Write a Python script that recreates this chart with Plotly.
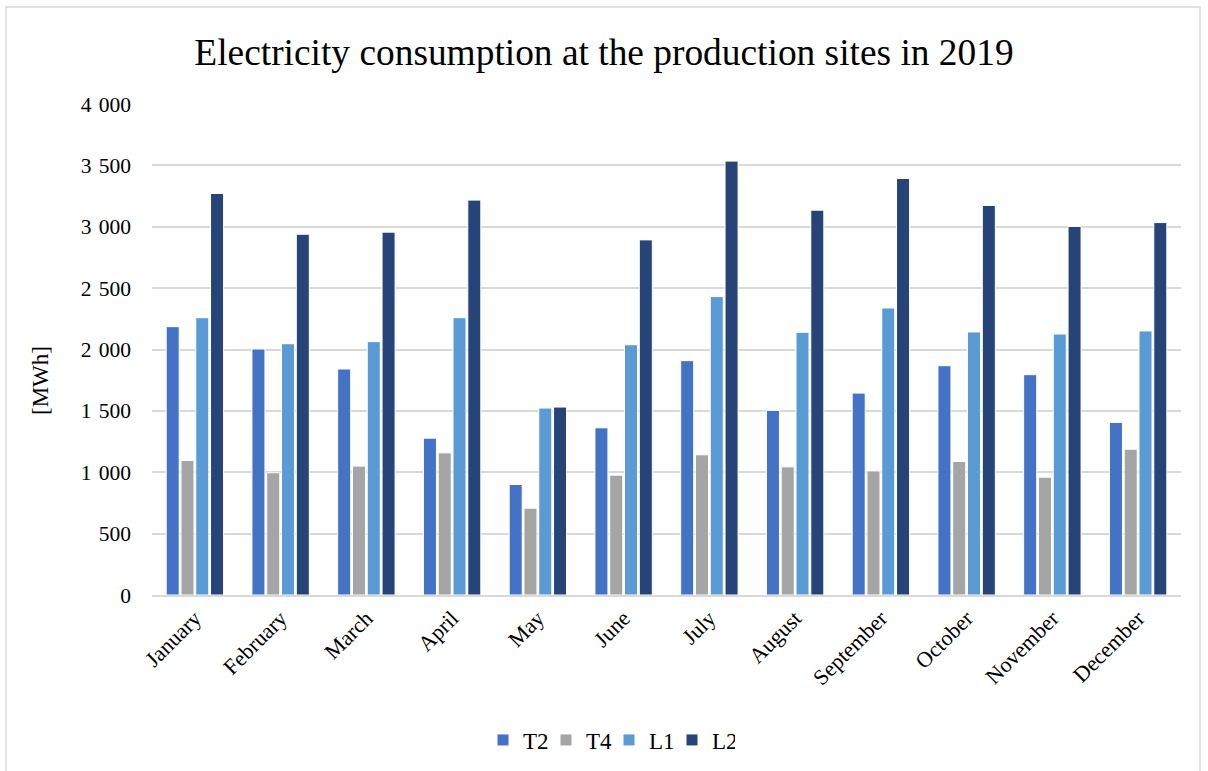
import plotly.graph_objects as go

months = ["January", "February", "March", "April", "May", "June", "July",
          "August", "September", "October", "November", "December"]
t2 = [2186, 2004, 1841, 1278, 900, 1362, 1909, 1504, 1645, 1868, 1795, 1406]
t4 = [1096, 996, 1050, 1158, 707, 976, 1142, 1044, 1011, 1088, 960, 1188]
l1 = [2259, 2047, 2064, 2259, 1523, 2039, 2431, 2140, 2338, 2143, 2126, 2151]
l2 = [3271, 2939, 2956, 3217, 1531, 2893, 3535, 3135, 3393, 3173, 3002, 3034]

series = [("T2", t2, "#4472C4"), ("T4", t4, "#A5A5A5"),
          ("L1", l1, "#5B9BD5"), ("L2", l2, "#264478")]

FONT = "Liberation Serif, Times New Roman, serif"

fig = go.Figure()
for name, vals, col in series:
    fig.add_trace(go.Bar(x=months, y=vals, name=name,
                         marker=dict(color=col, line=dict(color="white", width=1))))

W, H = 1208, 771
L, R, T, B = 152, 27, 104, 176
pw, ph = W - L - R, H - T - B

def px(x):
    return (x - L) / pw

def py(y):
    return (H - B - y) / ph

fig.update_layout(
    width=W, height=H,
    margin=dict(l=L, r=R, t=T, b=B, autoexpand=False),
    paper_bgcolor="white", plot_bgcolor="white",
    font=dict(family=FONT, size=22, color="black"),
    separators=",\u2004",
    barmode="group", bargap=0.31, bargroupgap=0.12,
    title=dict(text="Electricity consumption at the production sites in 2019",
               x=0.5, xref="container", xanchor="center",
               y=1 - 52 / H, yref="container", yanchor="middle",
               font=dict(family=FONT, size=37.4, color="black")),
    legend=dict(orientation="h", x=px(609), xanchor="center",
                y=py(740), yanchor="middle",
                font=dict(family=FONT, size=23, color="black"),
                itemwidth=30, entrywidth=18, traceorder="normal"),
    showlegend=True,
)
fig.update_yaxes(range=[0, 4000], tick0=0, dtick=500, tickformat=",d",
                 showgrid=True, gridcolor="#D9D9D9", gridwidth=1.5,
                 zeroline=False, showline=False, ticks="",
                 ticklabelstandoff=20,
                 tickfont=dict(family=FONT, size=21.5, color="black"))
fig.update_xaxes(showgrid=False, showline=True, linecolor="#D9D9D9", linewidth=1.5,
                 ticks="", tickangle=-45,
                 tickfont=dict(family=FONT, size=22, color="black"))

fig.add_annotation(text="[MWh]", textangle=-90, xref="paper", yref="paper",
                   x=px(40), y=py(381), xanchor="center", yanchor="middle",
                   showarrow=False, font=dict(family=FONT, size=23, color="black"))

fig.add_shape(type="rect", xref="paper", yref="paper",
              x0=px(6), x1=px(1200), y0=py(790), y1=py(7),
              line=dict(color="#D9D9D9", width=1.5), fillcolor="rgba(0,0,0,0)",
              layer="below")

fig.write_html("out.html")
